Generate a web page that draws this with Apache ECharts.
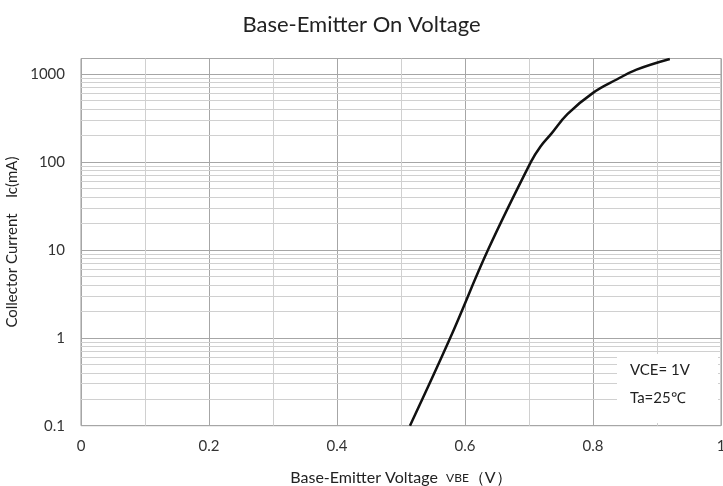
<!DOCTYPE html>
<html>
<head>
<meta charset="utf-8">
<script src="https://cdn.jsdelivr.net/npm/echarts@6/dist/echarts.min.js"></script>
<style>html,body{margin:0;padding:0;background:#fff;}#c{width:723px;height:486px;}</style>
</head>
<body>
<div id="c"></div>
<script>
var vbe = [0.514, 0.577, 0.636, 0.703, 0.718, 0.735, 0.76, 0.80, 0.837, 0.868, 0.92];
var ic  = [0.1, 1, 10, 100, 150, 210, 350, 610, 865, 1120, 1480];
var xTicks = [0, 0.2, 0.4, 0.6, 0.8, 1];
var yTicks = [0.1, 1, 10, 100, 1000];
var minorMult = [2, 3, 4, 5, 6, 7, 8, 9];
var decades = [0.1, 1, 10, 100, 1000];
var yMax = 1500;

var minorVals = [];
decades.forEach(function(d){ minorMult.forEach(function(m){ var v = d*m; if (v < yMax) minorVals.push(+v.toPrecision(3)); }); });

var FONT = 'Lato';
var chart = echarts.init(document.getElementById('c'));
chart.setOption({
  backgroundColor: '#fff',
  animation: false,
  title: {
    text: 'Base-Emitter On Voltage',
    left: 'center', top: 9,
    textStyle: {fontFamily: FONT, fontSize: 22, fontWeight: 'normal', color: '#222'}
  },
  grid: {left: 81, right: 2, top: 58.5, bottom: 60.3, show: true, borderColor: '#999', borderWidth: 1,
         outerBoundsMode: 'none', containLabel: false},
  xAxis: {
    type: 'value', min: 0, max: 1, interval: 0.1,
    name: 'Base-Emitter Voltage  {s|VBE}（V）',
    nameLocation: 'middle', nameGap: 44,
    nameTextStyle: {fontFamily: FONT, fontSize: 16, color: '#222',
      rich: {s: {fontFamily: FONT, fontSize: 12, color: '#222'}}},
    axisLine: {show: false}, axisTick: {show: false},
    axisLabel: {fontFamily: FONT, fontSize: 15, color: '#333', margin: 13,
      formatter: function(v){
        for (var i = 0; i < xTicks.length; i++) if (Math.abs(v - xTicks[i]) < 1e-6) return String(xTicks[i]);
        return '';
      }},
    splitLine: {show: true, lineStyle: {color: ['#a6a6a6', '#d0d0d0'], width: 1}}
  },
  yAxis: {
    type: 'log', logBase: 10, min: 0.1, max: yMax,
    name: 'Collector Current    Ic(mA)',
    nameLocation: 'middle', nameGap: 58, nameRotate: 90,
    nameTextStyle: {fontFamily: FONT, fontSize: 15, color: '#222'},
    axisLine: {show: false}, axisTick: {show: false},
    axisLabel: {fontFamily: FONT, fontSize: 15, color: '#333', margin: 16, showMaxLabel: false,
      formatter: function(v){
        for (var i = 0; i < yTicks.length; i++) if (Math.abs(v / yTicks[i] - 1) < 1e-6) return String(yTicks[i]);
        return '';
      }},
    splitLine: {show: true, lineStyle: {color: '#a6a6a6', width: 1}}
  },
  series: [
    {
      type: 'line', data: [], z: 1, silent: true,
      markLine: {
        silent: true, symbol: ['none', 'none'], animation: false,
        label: {show: false},
        lineStyle: {color: '#d0d0d0', width: 1, type: 'solid'},
        data: minorVals.map(function(v){ return {yAxis: v}; })
      }
    },
    {
      type: 'line', z: 5,
      data: vbe.map(function(v, i){ return [v, ic[i]]; }),
      showSymbol: false, smooth: 0.4,
      lineStyle: {color: '#111', width: 2.5}
    }
  ],
  graphic: [
    {type: 'rect', left: 617, top: 354, z: 100, shape: {width: 101, height: 69}, style: {fill: '#fff'}},
    {type: 'text', left: 630, top: 363, z: 101, style: {text: 'VCE= 1V', font: '15px Lato', fill: '#222'}},
    {type: 'text', left: 630, top: 391, z: 101, style: {text: 'Ta=25℃', font: '15px Lato', fill: '#222'}}
  ]
});
</script>
</body>
</html>
